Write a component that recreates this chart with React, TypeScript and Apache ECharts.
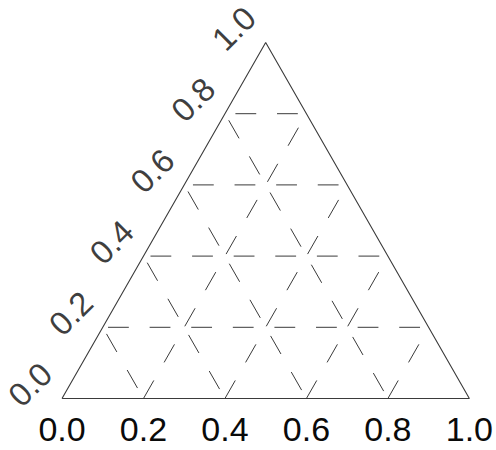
import React, { useEffect, useRef } from "react";
import * as echarts from "echarts";

// Tick positions along each side of the ternary triangle and their labels
const tickValues = [0, 0.2, 0.4, 0.6, 0.8, 1.0];
const tickLabels = ["0.0", "0.2", "0.4", "0.6", "0.8", "1.0"];
// Interior grid levels (dashed)
const gridLevels = [0.2, 0.4, 0.6, 0.8];

const H = Math.sqrt(3) / 2;
const PLOT_W = 409;
const PLOT_H = 356;

// (position along the base, height fraction) -> cartesian data point
const pt = (x: number, h: number): number[] => [x, h * H];

const INK = "#3a3a3a";
const TEXT = "#0a0a0a";
const FONT = "'Liberation Sans', Arial, sans-serif";
const DASH: number[] = [20.8, 20.8];

function dashed(data: number[][], offset: number) {
  return {
    type: "line",
    data,
    showSymbol: false,
    silent: true,
    clip: false,
    lineStyle: { color: INK, width: 1, type: DASH, dashOffset: offset },
  };
}

function buildOption(): echarts.EChartsOption {
  const gridSeries: any[] = [];
  gridLevels.forEach((v) => {
    // horizontal, right side to left side
    gridSeries.push(dashed([pt(1 - v / 2, v), pt(v / 2, v)], 32.6));
    // rising, from the base to the right side
    gridSeries.push(dashed([pt(v, 0), pt((1 + v) / 2, 1 - v)], 0));
    // falling, from the left side to the base
    gridSeries.push(dashed([pt(v / 2, v), pt(v, 0)], 33.6));
  });

  const outline = {
    type: "line",
    data: [pt(0, 0), pt(1, 0), pt(0.5, 1), pt(0, 0)],
    showSymbol: false,
    silent: true,
    clip: false,
    lineStyle: { color: INK, width: 1.1, type: "solid" },
    z: 3,
  };

  // left-side labels sit just outside the edge
  const dx = -32 / PLOT_W;
  const dy = (14 / PLOT_H) * H;
  const leftLabels = {
    type: "scatter",
    symbolSize: 1,
    clip: false,
    silent: true,
    itemStyle: { color: "transparent" },
    data: tickValues.map((t, i) => ({
      name: tickLabels[i],
      value: [t / 2 + dx, t * H + dy],
    })),
    label: {
      show: true,
      position: "inside",
      rotate: 45,
      align: "center",
      verticalAlign: "middle",
      formatter: (p: any) => p.name,
      fontSize: 33,
      color: TEXT,
      fontFamily: FONT,
    },
  };

  return {
    animation: false,
    backgroundColor: "#fff",
    grid: { left: 62, top: 42.5, width: PLOT_W, height: PLOT_H, containLabel: false },
    xAxis: {
      type: "value",
      min: 0,
      max: 1,
      interval: 0.2,
      axisLine: { show: false },
      axisTick: { show: false },
      splitLine: { show: false },
      axisLabel: {
        show: true,
        showMinLabel: true,
        showMaxLabel: true,
        margin: 13,
        fontSize: 34,
        color: TEXT,
        fontFamily: FONT,
        formatter: (v: number) => tickLabels[Math.round(v * 5)],
      },
    },
    yAxis: { type: "value", min: 0, max: H, show: false },
    series: [...gridSeries, outline, leftLabels] as any,
  };
}

export default function App() {
  const ref = useRef<HTMLDivElement>(null);
  useEffect(() => {
    if (!ref.current) return;
    const chart = echarts.init(ref.current, undefined, { renderer: "svg" });
    chart.setOption(buildOption());
    return () => chart.dispose();
  }, []);
  return (
    <div
      ref={ref}
      style={{ position: "absolute", left: 0, top: 0, width: 496, height: 450, background: "#fff" }}
    />
  );
}
